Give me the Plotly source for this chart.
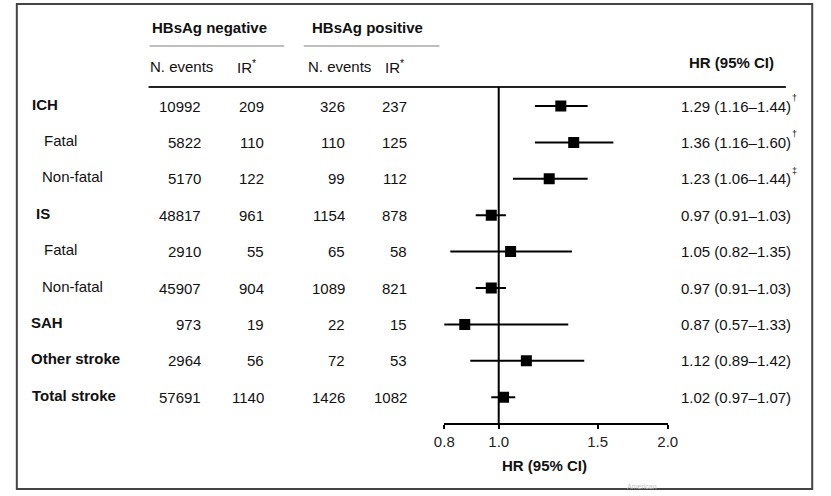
import plotly.graph_objects as go

# ---- data ----
groups = ["ICH", "Fatal", "Non-fatal", "IS", "Fatal", "Non-fatal", "SAH", "Other stroke", "Total stroke"]
is_main = [True, False, False, True, False, False, True, True, True]
neg_events = [10992, 5822, 5170, 48817, 2910, 45907, 973, 2964, 57691]
neg_ir = [209, 110, 122, 961, 55, 904, 19, 56, 1140]
pos_events = [326, 110, 99, 1154, 65, 1089, 22, 72, 1426]
pos_ir = [237, 125, 112, 878, 58, 821, 15, 53, 1082]
hr = [1.29, 1.36, 1.23, 0.97, 1.05, 0.97, 0.87, 1.12, 1.02]
ci_lo = [1.16, 1.16, 1.06, 0.91, 0.82, 0.91, 0.57, 0.89, 0.97]
ci_hi = [1.44, 1.60, 1.44, 1.03, 1.35, 1.03, 1.33, 1.42, 1.07]
sig_marks = ["†", "†", "‡", "", "", "", "", "", ""]
tick_vals = [0.8, 1.0, 1.5, 2.0]
tick_text = ["0.8", "1.0", "1.5", "2.0"]
x_min, x_max = 0.8, 2.0

W, H = 831, 496
FONT = "Liberation Sans, Arial, sans-serif"
INK = "#111111"
PAD = 2  # annotation inner padding in px


def px(x):
    return x / W


def py(y):
    return 1 - y / H


rows = list(range(len(groups)))
label_x = [22, 35, 33, 27, 35, 33, 21, 21, 23]

fig = go.Figure()

# CI lines + squares
fig.add_trace(go.Scatter(
    x=hr, y=rows, mode="markers",
    marker=dict(symbol="square", size=11, color="black"),
    error_x=dict(type="data", symmetric=False,
                 array=[h - m for h, m in zip(ci_hi, hr)],
                 arrayminus=[m - l for m, l in zip(hr, ci_lo)],
                 thickness=2, width=0, color="black"),
    showlegend=False, hoverinfo="skip",
))

# arrows for CIs running beyond the axis
arrow_rows = [r for r in rows if ci_lo[r] < x_min]
fig.add_trace(go.Scatter(
    x=[x_min] * len(arrow_rows), y=arrow_rows, mode="markers",
    marker=dict(symbol="triangle-left", size=11, color="black"),
    cliponaxis=False, showlegend=False, hoverinfo="skip",
))

ann = []


def txt(x, y, s, anchor="left", bold=False, yref="paper", size=15, color=INK, yshift=0):
    if anchor == "left":
        x -= PAD
    elif anchor == "right":
        x += PAD
    ann.append(dict(x=px(x), y=y, xref="paper", yref=yref, text=f"<b>{s}</b>" if bold else s,
                    showarrow=False, xanchor=anchor, yanchor="middle", yshift=yshift,
                    font=dict(family=FONT, size=size, color=color)))


# headers
txt(145, py(28), "HBsAg negative", bold=True)
txt(309, py(28), "HBsAg positive", bold=True)
txt(143, py(67), "N. events")
txt(233, py(66), "IR<sup>*</sup>")
txt(305, py(67), "N. events")
txt(384, py(66), "IR<sup>*</sup>")
txt(783, py(63), "HR (95% CI)", anchor="right", bold=True)

for r in rows:
    txt(label_x[r], r, groups[r], bold=is_main[r], yref="y", yshift=2)
    txt(196, r, str(neg_events[r]), anchor="right", yref="y")
    txt(260, r, str(neg_ir[r]), anchor="right", yref="y")
    txt(343, r, str(pos_events[r]), anchor="right", yref="y")
    txt(407, r, str(pos_ir[r]), anchor="right", yref="y")
    txt(800, r, f"{hr[r]:.2f} ({ci_lo[r]:.2f}–{ci_hi[r]:.2f})", anchor="right", yref="y")
    if sig_marks[r]:
        txt(801, r, sig_marks[r], yref="y", size=9, yshift=8)

# axis title
txt(548, py(465), "HR (95% CI)", anchor="center", bold=True)
# faint watermark
txt(632, py(486), "American", size=7, color="#c8c8c8")

shapes = [
    # outer frame
    dict(type="rect", xref="paper", yref="paper", x0=px(7), x1=px(822), y0=py(489), y1=py(4),
         line=dict(color="#444444", width=2)),
    # gray underlines of group headers
    dict(type="line", xref="paper", yref="paper", x0=px(143), x1=px(281), y0=py(46), y1=py(46),
         line=dict(color="#aaaaaa", width=1.5)),
    dict(type="line", xref="paper", yref="paper", x0=px(301), x1=px(440), y0=py(46), y1=py(46),
         line=dict(color="#aaaaaa", width=1.5)),
    # header rule
    dict(type="line", xref="paper", yref="paper", x0=px(142), x1=px(795), y0=py(87), y1=py(87),
         line=dict(color="#222222", width=2)),
    # reference line at HR = 1
    dict(type="line", xref="x", yref="paper", x0=1, x1=1, y0=py(423), y1=py(87),
         line=dict(color="black", width=2)),
]

# rows: center of row i at 106 + 36.4*i px
y_top_px, y_bot_px = 88, 423
r_top = (y_top_px - 106) / 36.4
r_bot = (y_bot_px - 106) / 36.4

fig.update_layout(
    width=W, height=H,
    margin=dict(l=0, r=0, t=0, b=0),
    paper_bgcolor="white", plot_bgcolor="white",
    annotations=ann, shapes=shapes,
    xaxis=dict(type="log", range=[-0.0969100130, 0.3010299957], domain=[px(445), px(674)],
               showline=True, linecolor="black", linewidth=2, ticks="outside", ticklen=4,
               tickwidth=2, tickcolor="black", tickvals=tick_vals, ticktext=tick_text,
               tickfont=dict(family=FONT, size=15, color="#222222"),
               showgrid=False, zeroline=False, anchor="y", fixedrange=True),
    yaxis=dict(range=[r_bot, r_top], domain=[py(y_bot_px), py(y_top_px)], visible=False,
               showgrid=False, zeroline=False, fixedrange=True),
)

fig.write_html(
    "out.html",
    config={"displayModeBar": False},
    post_script="document.body.style.margin='0';document.body.style.overflow='hidden';",
)
